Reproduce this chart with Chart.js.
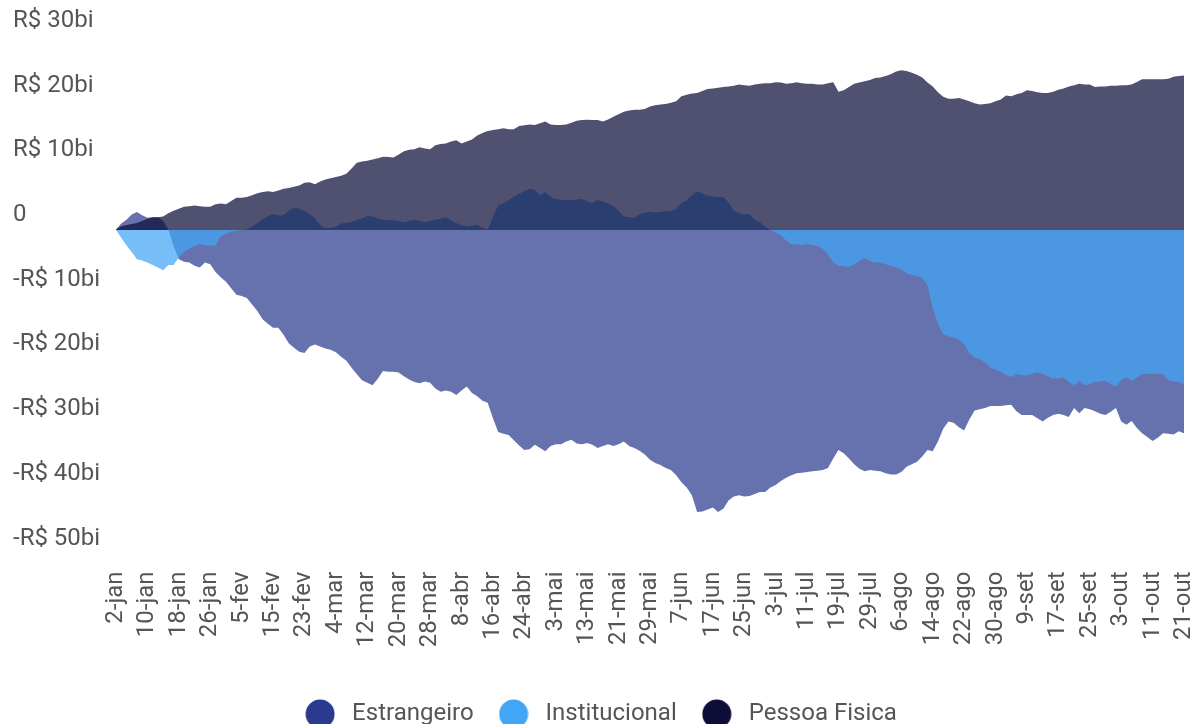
<!DOCTYPE html>
<html>
<head>
<meta charset="utf-8">
<script src="https://cdn.jsdelivr.net/npm/chart.js@4.4.1/dist/chart.umd.min.js"></script>
<style>
  html, body { margin: 0; padding: 0; background: #ffffff; }
  #wrap { width: 1191px; height: 724px; position: relative; }
</style>
</head>
<body>
<div id="wrap"><canvas id="c" width="1191" height="724"></canvas></div>
<script>
// Trading days (categories)
const dias = [
  '2-jan','3-jan','4-jan','5-jan','8-jan','9-jan','10-jan','11-jan','12-jan','15-jan','16-jan','17-jan','18-jan','19-jan','22-jan','23-jan','24-jan','25-jan','26-jan','29-jan','30-jan','31-jan',
  '1-fev','2-fev','5-fev','6-fev','7-fev','8-fev','9-fev','14-fev','15-fev','16-fev','19-fev','20-fev','21-fev','22-fev','23-fev','26-fev','27-fev','28-fev','29-fev',
  '1-mar','4-mar','5-mar','6-mar','7-mar','8-mar','11-mar','12-mar','13-mar','14-mar','15-mar','18-mar','19-mar','20-mar','21-mar','22-mar','25-mar','26-mar','27-mar','28-mar',
  '1-abr','2-abr','3-abr','4-abr','5-abr','8-abr','9-abr','10-abr','11-abr','12-abr','15-abr','16-abr','17-abr','18-abr','19-abr','22-abr','23-abr','24-abr','25-abr','26-abr','29-abr','30-abr',
  '2-mai','3-mai','6-mai','7-mai','8-mai','9-mai','10-mai','13-mai','14-mai','15-mai','16-mai','17-mai','20-mai','21-mai','22-mai','23-mai','24-mai','27-mai','28-mai','29-mai','31-mai',
  '3-jun','4-jun','5-jun','6-jun','7-jun','10-jun','11-jun','12-jun','13-jun','14-jun','17-jun','18-jun','19-jun','20-jun','21-jun','24-jun','25-jun','26-jun','27-jun','28-jun',
  '1-jul','2-jul','3-jul','4-jul','5-jul','8-jul','9-jul','10-jul','11-jul','12-jul','15-jul','16-jul','17-jul','18-jul','19-jul','22-jul','23-jul','24-jul','25-jul','26-jul','29-jul','30-jul','31-jul',
  '1-ago','2-ago','5-ago','6-ago','7-ago','8-ago','9-ago','12-ago','13-ago','14-ago','15-ago','16-ago','19-ago','20-ago','21-ago','22-ago','23-ago','26-ago','27-ago','28-ago','29-ago','30-ago',
  '2-set','3-set','4-set','5-set','6-set','9-set','10-set','11-set','12-set','13-set','16-set','17-set','18-set','19-set','20-set','23-set','24-set','25-set','26-set','27-set','30-set',
  '1-out','2-out','3-out','4-out','7-out','8-out','9-out','10-out','11-out','14-out','15-out','16-out','17-out','18-out','21-out'
];

// Accumulated flows, R$ bi
const estrangeiro = [
  0.1, 1.0, 1.6, 2.4, 2.8, 2.3, 1.9, 2.0, 2.0, 1.4,
  0.1, -2.5, -4.5, -4.9, -5.0, -5.5, -5.8, -5.0, -5.3, -6.5,
  -7.3, -8.0, -9.0, -10.0, -10.2, -10.5, -11.5, -12.5, -13.8, -14.5,
  -15.1, -15.1, -16.2, -17.5, -18.2, -18.8, -19.0, -18.0, -17.7, -18.0,
  -18.3, -18.5, -18.9, -19.6, -20.2, -21.3, -22.3, -23.2, -23.6, -24.0,
  -23.0, -21.8, -21.9, -21.9, -22.0, -22.6, -23.1, -23.5, -23.7, -23.4,
  -23.6, -24.5, -25.0, -24.8, -25.0, -25.5, -24.8, -24.2, -25.2, -25.7,
  -26.4, -26.7, -29.1, -31.2, -31.5, -31.7, -32.5, -33.3, -34.0, -33.9,
  -33.2, -33.7, -34.2, -33.4, -33.1, -33.1, -32.7, -32.4, -33.0, -33.1,
  -32.9, -33.2, -33.7, -33.4, -33.1, -33.4, -33.1, -32.7, -33.4, -33.7,
  -34.1, -34.7, -35.5, -36.0, -36.3, -36.8, -37.1, -37.9, -39.0, -39.8,
  -41.0, -43.6, -43.5, -43.2, -42.9, -43.6, -43.1, -41.8, -41.2, -41.0,
  -41.2, -41.1, -40.8, -40.5, -40.5, -39.8, -39.4, -38.8, -38.3, -37.9,
  -37.6, -37.5, -37.4, -37.3, -37.2, -37.1, -36.8, -35.3, -34.0, -34.5,
  -35.3, -36.2, -36.9, -37.3, -37.1, -37.2, -37.3, -37.6, -37.8, -37.8,
  -37.4, -36.6, -36.2, -35.8, -35.0, -34.0, -34.2, -32.7, -30.7, -29.6,
  -29.8, -30.5, -31.0, -29.3, -27.9, -27.7, -27.5, -27.2, -27.2, -27.2,
  -27.1, -27.0, -28.0, -28.6, -28.6, -28.6, -29.1, -29.6, -29.0, -28.6,
  -28.4, -28.6, -28.9, -27.5, -28.3, -27.5, -27.7, -28.0, -28.4, -28.6,
  -28.1, -27.5, -29.6, -30.1, -29.5, -30.6, -31.4, -32.0, -32.6, -32.1,
  -31.4, -31.5, -31.6, -31.1, -31.4
];
const institucional = [
  0.0, -1.2, -2.4, -3.4, -4.5, -4.7, -5.0, -5.4, -5.8, -6.2,
  -5.4, -5.4, -4.2, -3.4, -2.9, -2.5, -2.1, -2.4, -2.4, -2.4,
  -1.0, -0.6, -0.2, -0.1, 0.0, 0.1, 0.6, 1.1, 1.7, 2.1,
  2.5, 2.3, 2.3, 3.0, 3.5, 3.3, 3.0, 2.5, 1.8, 0.8,
  0.3, 0.3, 0.5, 1.0, 1.1, 1.3, 1.5, 1.8, 2.2, 2.1,
  1.8, 1.6, 1.5, 1.5, 1.4, 1.2, 1.4, 1.6, 1.4, 1.2,
  1.4, 1.6, 1.8, 2.0, 1.5, 1.1, 0.8, 0.5, 0.7, 0.8,
  0.3, 0.1, 2.0, 3.8, 4.2, 4.6, 5.2, 5.6, 6.0, 6.4,
  6.2, 5.4, 5.9, 5.1, 4.8, 4.7, 4.6, 4.6, 4.7, 4.85,
  4.4, 4.2, 4.7, 4.4, 4.1, 3.7, 3.0, 2.1, 2.0, 1.9,
  2.4, 2.7, 2.85, 2.7, 2.8, 2.9, 2.9, 3.3, 4.2, 4.6,
  5.4, 6.0, 5.7, 5.3, 5.2, 5.1, 5.1, 4.3, 3.0, 2.6,
  2.4, 2.5, 1.6, 1.2, 0.5, 0.0, -0.4, -0.8, -1.6, -2.2,
  -2.2, -2.3, -2.15, -2.3, -2.5, -2.9, -3.8, -5.0, -5.5, -5.6,
  -5.7, -5.3, -4.8, -4.3, -4.8, -5.0, -5.0, -5.3, -5.5, -5.8,
  -6.1, -6.7, -6.9, -7.1, -7.4, -8.5, -12.0, -14.5, -16.1, -16.4,
  -16.6, -17.0, -17.6, -19.0, -19.7, -20.0, -20.4, -21.3, -21.6, -21.9,
  -22.4, -22.7, -22.3, -22.4, -22.5, -22.2, -22.0, -22.2, -22.6, -23.0,
  -22.9, -22.8, -23.5, -24.0, -23.3, -24.0, -23.8, -23.5, -23.4, -23.3,
  -23.8, -24.2, -23.2, -22.7, -23.3, -22.8, -22.3, -22.2, -22.2, -22.3,
  -22.2, -23.2, -23.4, -23.5, -23.8
];
const pessoaFisica = [
  0.1, 0.6, 0.8, 0.95, 1.1, 1.4, 1.75, 2.0, 2.0, 2.1,
  2.6, 3.0, 3.3, 3.6, 3.7, 3.8, 3.7, 3.6, 3.6, 4.0,
  4.1, 4.0, 4.5, 5.0, 5.0, 5.1, 5.4, 5.7, 5.9, 6.0,
  5.9, 6.1, 6.4, 6.5, 6.7, 6.9, 7.3, 7.4, 7.1, 7.5,
  7.8, 8.0, 8.2, 8.4, 8.7, 9.5, 10.4, 10.6, 10.7, 10.9,
  11.1, 11.35, 11.3, 11.2, 11.7, 12.2, 12.4, 12.5, 12.8, 12.6,
  12.5, 13.1, 13.3, 13.4, 13.7, 13.9, 13.4, 13.7, 14.0, 14.6,
  15.0, 15.3, 15.45, 15.6, 15.75, 15.6, 15.6, 16.1, 16.2, 16.3,
  16.25, 16.5, 16.8, 16.3, 16.25, 16.25, 16.3, 16.6, 16.9, 17.0,
  17.05, 17.0, 17.0, 16.8, 17.1, 17.5, 17.9, 18.3, 18.5, 18.6,
  18.6, 18.7, 19.1, 19.3, 19.4, 19.5, 19.7, 19.9, 20.7, 20.9,
  21.1, 21.2, 21.5, 21.8, 21.9, 22.0, 22.1, 22.2, 22.3, 22.5,
  22.4, 22.3, 22.5, 22.6, 22.7, 22.7, 22.85, 22.8, 22.6, 22.7,
  22.85, 22.7, 22.6, 22.6, 22.5, 22.5, 22.7, 22.85, 21.4, 21.6,
  22.1, 22.6, 22.8, 23.0, 23.2, 23.5, 23.6, 23.8, 24.1, 24.5,
  24.7, 24.6, 24.3, 24.0, 23.6, 22.8, 22.2, 21.3, 20.6, 20.3,
  20.3, 20.4, 20.2, 19.9, 19.6, 19.4, 19.5, 19.6, 19.9, 20.2,
  20.8, 20.7, 21.0, 21.2, 21.6, 21.5, 21.3, 21.2, 21.2, 21.4,
  21.7, 21.9, 22.2, 22.4, 22.6, 22.5, 22.5, 22.1, 22.2, 22.2,
  22.3, 22.3, 22.4, 22.4, 22.5, 22.9, 23.3, 23.3, 23.3, 23.3,
  23.3, 23.4, 23.7, 23.8, 23.9
];

const yTicks = [30, 20, 10, 0, -10, -20, -30, -40, -50];

Chart.defaults.font.family = 'Roboto, "Noto Sans", sans-serif';
Chart.defaults.color = '#555555';

function rgba(hex, a) {
  const n = parseInt(hex.slice(1), 16);
  return 'rgba(' + ((n >> 16) & 255) + ',' + ((n >> 8) & 255) + ',' + (n & 255) + ',' + a + ')';
}
function dot(color) {
  const c = document.createElement('canvas');
  c.width = 30; c.height = 30;
  const g = c.getContext('2d');
  g.fillStyle = color;
  g.beginPath(); g.arc(15, 15, 14.5, 0, Math.PI * 2); g.fill();
  return c;
}
const ALPHA = 0.72;
function serie(label, data, color, order) {
  return {
    label: label,
    data: data,
    backgroundColor: color,
    borderColor: 'rgba(0,0,0,0)',
    borderWidth: 0,
    pointRadius: 0,
    pointHoverRadius: 0,
    pointStyle: dot(color),
    tension: 0,
    order: order,
    fill: { target: 'origin', above: rgba(color, ALPHA), below: rgba(color, ALPHA) }
  };
}

new Chart(document.getElementById('c'), {
  type: 'line',
  data: {
    labels: dias,
    datasets: [
      serie('Estrangeiro', estrangeiro, '#2a3b8f', 3),
      serie('Institucional', institucional, '#42a5f5', 2),
      serie('Pessoa Fisica', pessoaFisica, '#0d0d3a', 1)
    ]
  },
  options: {
    responsive: false,
    animation: false,
    events: [],
    layout: { padding: { left: 13, right: 7, top: 36, bottom: -12 } },
    plugins: {
      tooltip: { enabled: false },
      legend: {
        position: 'bottom',
        labels: {
          usePointStyle: true,
          pointStyleWidth: 40,
          boxHeight: 24,
          padding: 20,
          color: '#555555',
          font: { size: 24 },
          sort: (a, b) => a.datasetIndex - b.datasetIndex
        }
      }
    },
    scales: {
      x: {
        grid: { display: false },
        border: { display: false },
        ticks: {
          autoSkip: false,
          maxRotation: 90,
          minRotation: 90,
          padding: 10,
          color: '#555555',
          font: { size: 24 },
          callback: function (val, idx) { return idx % 6 === 0 ? dias[idx] : null; }
        },
        afterFit: function (s) { s.height = 128.5; s.paddingLeft = 0; s.paddingRight = 0; }
      },
      y: {
        min: -50,
        max: 30,
        afterBuildTicks: function (s) { s.ticks = yTicks.map(v => ({ value: v })); },
        grid: { display: false },
        border: { display: false },
        ticks: {
          crossAlign: 'far',
          labelOffset: -15,
          color: '#555555',
          font: { size: 24 },
          callback: function (v) {
            if (v === 0) return '0';
            return (v < 0 ? '-R$ ' : 'R$ ') + Math.abs(v) + 'bi';
          }
        },
        afterFit: function (s) { s.width = 103; s.paddingTop = 0; s.paddingBottom = 0; }
      }
    }
  }
});
</script>
</body>
</html>
